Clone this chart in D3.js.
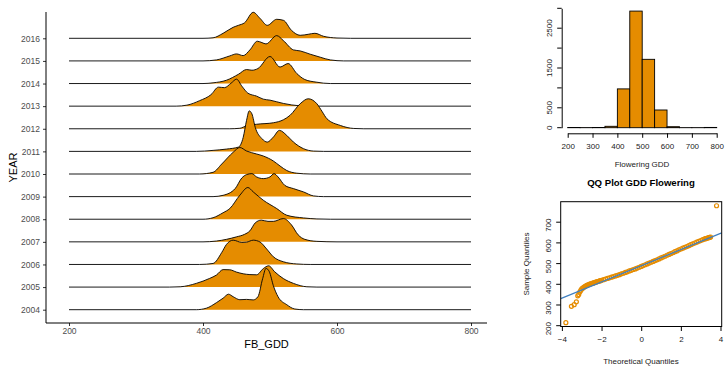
<!DOCTYPE html>
<html>
<head>
<meta charset="utf-8">
<script src="https://cdn.jsdelivr.net/npm/d3@7"></script>
<style>
  body { margin: 0; background: #fff; }
  svg { font-family: "Liberation Sans", Arial, sans-serif; }
</style>
</head>
<body>
<svg id="chart" width="725" height="369"></svg>
<script>
// Ridge densities per year as [FB_GDD, relative density]
var years = [2004, 2005, 2006, 2007, 2008, 2009, 2010, 2011, 2012, 2013, 2014, 2015, 2016];
var ridge2004 = [[390,0],[405,1.5],[420,7],[430,11.5],[438,15.5],[445,13],[455,10],[465,10.3],[475,9.8],[482,13],[489,31],[494,41.3],[499,38],[505,24],[512,13],[525,5],[537,0.7],[550,0]];
var ridge2005 = [[350,0],[366,0.3],[390,3.7],[410,8.7],[420,12],[430,17.5],[440,17.3],[450,15],[460,13.3],[470,12.5],[480,12.3],[490,18.5],[498,21.3],[507,15.3],[520,8.5],[535,3.7],[555,0.3],[570,0]];
var ridge2006 = [[395,0],[415,1],[428,12],[435,20],[445,24.3],[458,22],[465,22.3],[475,24.3],[485,22.5],[495,15.5],[505,7.7],[520,2.7],[540,0.5],[560,0]];
var ridge2007 = [[400,0],[420,0.8],[435,2.5],[450,5],[462,7.5],[470,11],[478,19],[487,21.7],[497,20.5],[505,20.5],[520,23.3],[532,17],[542,7],[552,2.5],[570,0.5],[600,0]];
var ridge2008 = [[400,0],[415,1.5],[430,6.5],[440,10.7],[455,24],[467,31.7],[475,27.3],[490,19],[510,10.7],[525,4],[550,1.3],[570,0.3],[590,0]];
var ridge2009 = [[415,0],[430,1.3],[448,8],[458,18.7],[465,22],[473,23],[480,19.7],[490,18],[500,19.7],[506,23],[512,19.7],[522,11.3],[535,8],[550,4.7],[565,0.7],[580,0]];
var ridge2010 = [[395,0],[415,1.7],[428,10],[445,21.7],[455,26.5],[465,23],[480,20],[490,18],[505,13],[515,8],[525,3.5],[540,0.8],[560,0]];
var ridge2011 = [[390,0],[415,1],[435,2.3],[453,4.3],[460,14],[465,31],[469,40.5],[473,37.5],[478,24],[488,12.7],[496,9.3],[505,14.3],[514,21],[525,16],[535,9.3],[550,2.7],[565,0.3],[580,0]];
var ridge2012 = [[440,0],[455,0.5],[465,3],[480,4.5],[505,6],[520,9],[530,13.5],[545,25],[557,30],[570,25],[578,17],[585,10],[605,3.3],[625,0.3],[640,0]];
var ridge2013 = [[360,0],[376,1],[395,5.5],[412,11.5],[423,19],[432,18.5],[442,23],[450,27],[458,20],[467,13],[480,10],[490,7],[500,6],[520,2.7],[545,0.3],[560,0]];
var ridge2014 = [[400,0],[415,0.7],[435,3.3],[453,9.3],[465,14],[473,13.3],[482,15],[500,27],[515,16.5],[527,20],[540,10],[552,4],[570,1.3],[590,0]];
var ridge2015 = [[400,0],[420,1],[440,5],[450,7],[460,5.3],[470,11],[481,19.7],[488,18.3],[494,17],[510,25.3],[520,20.3],[535,11],[545,10],[560,6.7],[575,3.7],[590,1],[610,0]];
var ridge2016 = [[400,0],[415,0.5],[430,5],[445,11],[453,13],[462,15.5],[475,26],[485,20],[496,13],[510,19],[520,18],[532,8],[545,3],[557,4],[567,5],[580,2],[600,0.3],[620,0]];
var ridges = [ridge2004, ridge2005, ridge2006, ridge2007, ridge2008, ridge2009, ridge2010,
  ridge2011, ridge2012, ridge2013, ridge2014, ridge2015, ridge2016];
var gddTicks = [200, 400, 600, 800];

// Histogram of flowering GDD
var histBreaks = [200, 250, 300, 350, 400, 450, 500, 550, 600, 650, 700, 750, 800];
var histCounts = [5, 3, 5, 35, 975, 2930, 1718, 445, 25, 2, 2, 7];
var histXTicks = [200, 300, 400, 500, 600, 700, 800];
var histYTicks = [0, 500, 1000, 1500, 2000, 2500, 3000];
var histYLabels = [0, 500, 1500, 2500];

// QQ plot: theoretical vs sample quantiles, plus the reference line
var qqTheo = [-3.8, -3.52, -3.38, -3.27, -3.2, -3.15, -3.1, -3.05, -3.0, -2.95, -2.9, -2.85, -2.8, -2.75,
  -2.7, -2.65, -2.6, -2.55, -2.5, -2.45, -2.4, -2.35, -2.3, -2.25, -2.2, -2.15, -2.1, -2.05, -2.0,
  -1.9, -1.8, -1.7, -1.6, -1.5, -1.4, -1.3, -1.2, -1.1, -1.0, -0.9, -0.8,
  -0.7, -0.6, -0.5, -0.4, -0.3, -0.2, -0.1, 0.0, 0.1, 0.2, 0.3, 0.4, 0.5, 0.6, 0.7, 0.8, 0.9, 1.0, 1.1,
  1.2, 1.3, 1.4, 1.5, 1.6, 1.7, 1.8, 1.9, 2.0, 2.1, 2.2, 2.3, 2.4, 2.5, 2.6, 2.7, 2.8, 2.9, 3.0, 3.1,
  3.2, 3.25, 3.3, 3.35, 3.4, 3.45, 3.5, 3.8];
var qqSample = [212, 291, 299, 313, 342, 348, 360, 368, 375, 379, 383, 386, 389, 392,
  394, 396, 398, 400, 401, 403, 404, 406, 408, 409, 411, 412, 414, 415, 417,
  420, 423, 426, 429, 432, 435, 438, 441, 444, 448, 451, 455,
  458, 462, 465, 469, 472, 476, 480, 484, 488, 492, 496, 500, 504, 508, 512, 516, 520, 525, 529,
  533, 538, 542, 546, 550, 555, 559, 564, 568, 572, 576, 580, 584, 589, 593, 597, 601, 605, 609, 613,
  617, 618, 620, 621, 623, 624, 626, 777];
var qqIntercept = 487;
var qqSlope = 39.1;
var qqXTicks = [-4, -2, 0, 2, 4];
var qqYTicks = [200, 300, 400, 500, 600, 700];

var ORANGE = "#E58C00";
var svg = d3.select("#chart");

/* ---------- ridgeline panel ---------- */
var x = d3.scaleLinear().domain([200, 800]).range([69, 471]);
var y = d3.scalePoint().domain(years).range([309.7, 38.3]);
var h = d3.scaleLinear().domain([0, 40]).range([0, 40]);
var panel = {left: 46, right: 487, top: 12, bottom: 323};

var g = svg.append("g");

// top ridge first so the lower years sit in front
years.slice().reverse().forEach(function(yr) {
  var i = years.indexOf(yr);
  var pts = [[200, 0]].concat(ridges[i]).concat([[800, 0]]);
  var base = y(yr);
  var area = d3.area()
    .x(function(d) { return x(d[0]); })
    .y0(base)
    .y1(function(d) { return base - h(d[1]); })
    .curve(d3.curveMonotoneX);
  var line = d3.line()
    .x(function(d) { return x(d[0]); })
    .y(function(d) { return base - h(d[1]); })
    .curve(d3.curveMonotoneX);
  g.append("path").attr("d", area(pts)).attr("fill", ORANGE);
  g.append("path").attr("d", line(pts))
    .attr("fill", "none").attr("stroke", "#000").attr("stroke-width", 0.9);
});

var yAxis = g.append("g")
  .attr("transform", "translate(" + panel.left + ",0)")
  .call(d3.axisLeft(y).tickSize(3).tickPadding(3));
var xAxis = g.append("g")
  .attr("transform", "translate(0," + panel.bottom + ")")
  .call(d3.axisBottom(x).tickValues(gddTicks).tickSize(3).tickPadding(2));
[yAxis, xAxis].forEach(function(a) {
  a.select(".domain").remove();
  a.selectAll("line").attr("stroke", "#333");
  a.selectAll("text").attr("fill", "#4D4D4D").style("font-size", "8.5px");
});
g.append("line").attr("x1", panel.left).attr("x2", panel.left)
  .attr("y1", panel.top).attr("y2", panel.bottom).attr("stroke", "#000");
g.append("line").attr("x1", panel.left).attr("x2", panel.right)
  .attr("y1", panel.bottom).attr("y2", panel.bottom).attr("stroke", "#000");

g.append("text").text("FB_GDD")
  .attr("x", (panel.left + panel.right) / 2).attr("y", 347.5)
  .attr("text-anchor", "middle").style("font-size", "11px");
g.append("text").text("YEAR")
  .attr("transform", "translate(17," + ((panel.top + panel.bottom) / 2) + ") rotate(-90)")
  .attr("text-anchor", "middle").style("font-size", "11px");

/* ---------- histogram ---------- */
var hx = d3.scaleLinear().domain([200, 800]).range([567.7, 716.7]);
var hy = d3.scaleLinear().domain([0, 3000]).range([127.7, 8.3]);
var hg = svg.append("g").style("font-size", "8px");

hg.selectAll("rect").data(histCounts).enter().append("rect")
  .attr("x", function(d, i) { return hx(histBreaks[i]); })
  .attr("width", function(d, i) { return hx(histBreaks[i + 1]) - hx(histBreaks[i]); })
  .attr("y", function(d) { return hy(d); })
  .attr("height", function(d) { return hy(0) - hy(d); })
  .attr("fill", ORANGE).attr("stroke", "#000").attr("stroke-width", 0.9);

var hxAxis = hg.append("g").attr("transform", "translate(0,133.3)")
  .call(d3.axisBottom(hx).tickValues(histXTicks).tickSize(4.5).tickSizeOuter(0).tickPadding(6));
var hyAxis = hg.append("g").attr("transform", "translate(561.7,0)")
  .call(d3.axisLeft(hy).tickValues(histYTicks).tickSize(4.5).tickSizeOuter(0)
    .tickFormat(function(d) { return histYLabels.indexOf(d) >= 0 ? d : ""; }));
hyAxis.selectAll("text")
  .attr("x", 0).attr("dy", 0).attr("text-anchor", "middle")
  .attr("transform", function(d) { return "translate(-10," + hy(d) + ") rotate(-90)"; })
  .attr("y", 0);
hyAxis.selectAll(".tick").attr("transform", null);
hyAxis.selectAll(".tick line").attr("transform", function(d) { return "translate(0," + hy(d) + ")"; });
[hxAxis, hyAxis].forEach(function(a) {
  a.selectAll("text").attr("fill", "#222").style("font-size", "8px");
  a.attr("font-size", null).attr("font-family", null);
});
hg.append("text").text("Flowering GDD")
  .attr("x", 642).attr("y", 167).attr("text-anchor", "middle").attr("fill", "#222");

/* ---------- QQ plot ---------- */
var qx = d3.scaleLinear().domain([-4.06, 4.06]).range([560.7, 721.7]);
var qy = d3.scaleLinear().domain([193.7, 796.6]).range([326.5, 201.7]);
var qg = svg.append("g").style("font-size", "8px");

qg.append("clipPath").attr("id", "qqclip").append("rect")
  .attr("x", qx(-4.06)).attr("y", qy(796.6))
  .attr("width", qx(4.06) - qx(-4.06)).attr("height", qy(193.7) - qy(796.6));

qg.selectAll("circle").data(qqTheo).enter().append("circle")
  .attr("cx", function(d) { return qx(d); })
  .attr("cy", function(d, i) { return qy(qqSample[i]); })
  .attr("r", 2)
  .attr("fill", "none").attr("stroke", ORANGE).attr("stroke-width", 1.2);

qg.append("line")
  .attr("clip-path", "url(#qqclip)")
  .attr("x1", qx(-4.06)).attr("y1", qy(qqIntercept + qqSlope * -4.06))
  .attr("x2", qx(4.06)).attr("y2", qy(qqIntercept + qqSlope * 4.06))
  .attr("stroke", "#3E7FC1").attr("stroke-width", 1.2);

qg.append("rect")
  .attr("x", qx(-4.06)).attr("y", qy(796.6))
  .attr("width", qx(4.06) - qx(-4.06)).attr("height", qy(193.7) - qy(796.6))
  .attr("fill", "none").attr("stroke", "#000").attr("stroke-width", 1);

var qxAxis = qg.append("g").attr("transform", "translate(0," + qy(193.7) + ")")
  .call(d3.axisBottom(qx).tickValues(qqXTicks).tickSize(4.5).tickPadding(5)
    .tickFormat(function(d) { return d < 0 ? "\u2212" + (-d) : d; }));
var qyAxis = qg.append("g").attr("transform", "translate(" + qx(-4.06) + ",0)")
  .call(d3.axisLeft(qy).tickValues(qqYTicks).tickSize(4.5));
qyAxis.selectAll(".tick text")
  .attr("x", 0).attr("y", 0).attr("dy", 0).attr("text-anchor", "middle")
  .attr("transform", "translate(-10,3) rotate(-90)");
[qxAxis, qyAxis].forEach(function(a) {
  a.select(".domain").remove();
  a.selectAll("text").attr("fill", "#222").style("font-size", "8px");
  a.attr("font-size", null).attr("font-family", null);
});

qg.append("text").text("QQ Plot GDD Flowering")
  .attr("x", 641).attr("y", 186).attr("text-anchor", "middle")
  .style("font-weight", "bold").style("font-size", "9.6px");
qg.append("text").text("Theoretical Quantiles")
  .attr("x", 641).attr("y", 364).attr("text-anchor", "middle").attr("fill", "#222");
qg.append("text").text("Sample Quantiles")
  .attr("transform", "translate(529,264) rotate(-90)")
  .attr("text-anchor", "middle").attr("fill", "#222");
</script>
</body>
</html>
